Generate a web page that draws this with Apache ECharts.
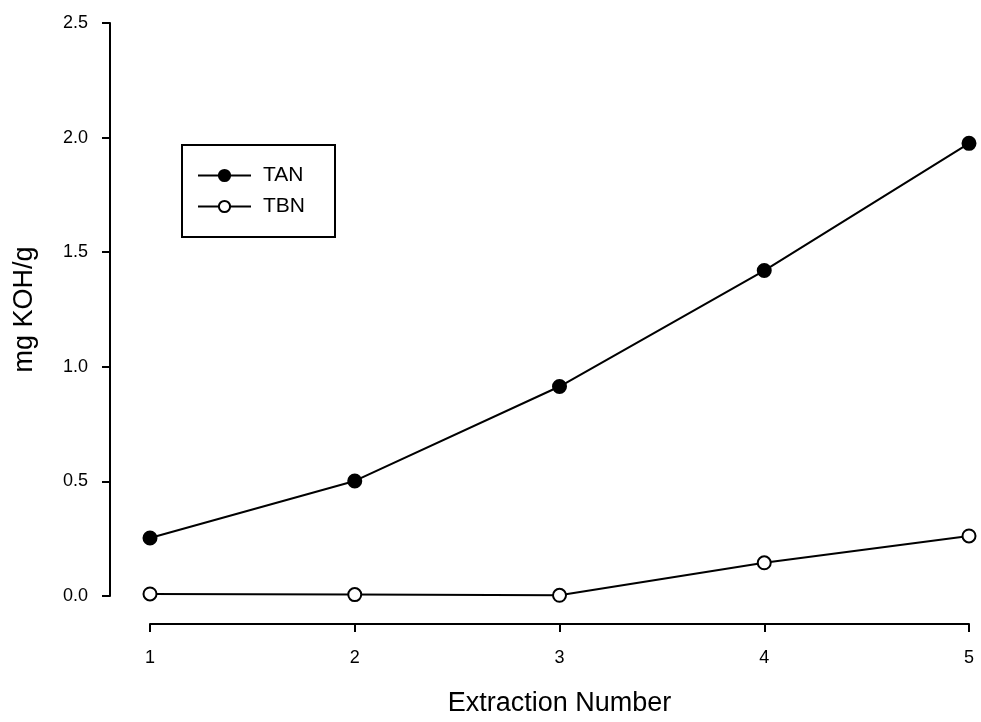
<!DOCTYPE html>
<html><head><meta charset="utf-8">
<script src="https://cdn.jsdelivr.net/npm/echarts@6/dist/echarts.min.js"></script>
<style>html,body{margin:0;padding:0;background:#fff}#c{width:981px;height:722px}</style>
</head><body><div id="c"></div>
<script>
const extraction = [1, 2, 3, 4, 5];
const tan = [0.253, 0.502, 0.914, 1.42, 1.975];
const tbn = [0.009, 0.006, 0.003, 0.145, 0.262];
const yTicks = [0, 0.5, 1.0, 1.5, 2.0, 2.5];

const font = 'Liberation Sans, Arial, sans-serif';
const chart = echarts.init(document.getElementById('c'));
chart.setOption({
  animation: false,
  backgroundColor: '#fff',
  grid: {left: 150, right: 12, top: 23, bottom: 126, containLabel: false, outerBoundsMode: 'none'},
  legend: {
    left: 182, top: 145, orient: 'vertical',
    padding: [20, 30, 20, 15], itemGap: 10, itemWidth: 53, itemHeight: 14,
    borderColor: '#000', borderWidth: 2,
    textStyle: {fontFamily: font, fontSize: 21, color: '#000', padding: [0, 0, 0, 7]},
    data: ['TAN', 'TBN']
  },
  xAxis: {
    type: 'value', min: 1, max: 5, interval: 1, offset: 28,
    axisLine: {show: true, onZero: false, lineStyle: {color: '#000', width: 2}},
    axisTick: {show: true, length: 8, lineStyle: {color: '#000', width: 2}},
    axisLabel: {margin: 25, fontFamily: font, fontSize: 18, color: '#000'},
    splitLine: {show: false},
    name: 'Extraction Number', nameLocation: 'middle', nameGap: 66,
    nameTextStyle: {fontFamily: font, fontSize: 27, color: '#000'}
  },
  yAxis: {
    type: 'value', min: yTicks[0], max: yTicks[yTicks.length - 1], interval: 0.5, offset: 40,
    axisLine: {show: true, onZero: false, lineStyle: {color: '#000', width: 2}},
    axisTick: {show: true, length: 8, lineStyle: {color: '#000', width: 2}},
    axisLabel: {margin: 22, fontFamily: font, fontSize: 18, color: '#000', formatter: v => v.toFixed(1)},
    splitLine: {show: false},
    name: 'mg KOH/g', nameLocation: 'middle', nameGap: 72, nameRotate: 90,
    nameTextStyle: {fontFamily: font, fontSize: 27, color: '#000'}
  },
  series: [
    {name: 'TAN', type: 'line', data: extraction.map((x, i) => [x, tan[i]]),
     symbol: 'circle', symbolSize: 13, lineStyle: {color: '#000', width: 2},
     itemStyle: {color: '#000', borderColor: '#000', borderWidth: 2}},
    {name: 'TBN', type: 'line', data: extraction.map((x, i) => [x, tbn[i]]),
     symbol: 'circle', symbolSize: 13, lineStyle: {color: '#000', width: 2},
     itemStyle: {color: '#fff', borderColor: '#000', borderWidth: 2}}
  ]
});
</script></body></html>
